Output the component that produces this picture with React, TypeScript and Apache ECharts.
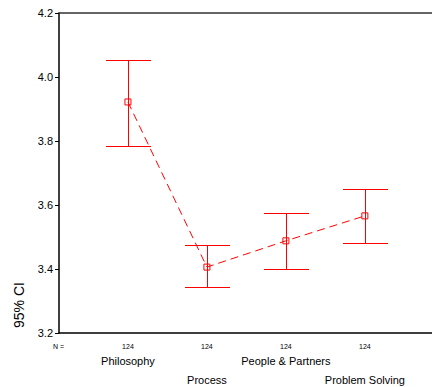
import React, { useEffect, useRef } from "react";
import * as echarts from "echarts";

const categories = ["Philosophy", "Process", "People & Partners", "Problem Solving"];
const counts = [124, 124, 124, 124];
const means = [3.922, 3.406, 3.488, 3.566];
const upper = [4.053, 3.475, 3.575, 3.65];
const lower = [3.784, 3.344, 3.4, 3.481];
const yTicks = [3.2, 3.4, 3.6, 3.8, 4.0, 4.2];

export default function App() {
  const ref = useRef<HTMLDivElement>(null);
  useEffect(() => {
    if (!ref.current) return;
    const chart = echarts.init(ref.current, null, { renderer: "svg" });
    const font = "'Liberation Sans', Arial, sans-serif";
    const pos = categories.map((_, i) => i + 1);
    chart.setOption({
      animation: false,
      grid: { left: 59, right: 0, top: 13, bottom: 54, containLabel: false },
      xAxis: [
        {
          type: "value",
          min: 0.127,
          max: 4.85,
          axisLine: { show: true, lineStyle: { color: "#000", width: 1.5 } },
          axisTick: { show: false },
          axisLabel: { show: false },
          splitLine: { show: false },
        },
        {
          type: "value",
          position: "top",
          min: 0.127,
          max: 4.85,
          axisLine: { show: true, lineStyle: { color: "#333", width: 1.5 } },
          axisTick: { show: false },
          axisLabel: { show: false },
          splitLine: { show: false },
        },
      ],
      yAxis: {
        type: "value",
        min: yTicks[0],
        max: yTicks[yTicks.length - 1],
        interval: 0.2,
        axisLine: { show: true, lineStyle: { color: "#000", width: 1.5 } },
        axisTick: { show: true, length: 4, lineStyle: { color: "#000" } },
        axisLabel: {
          color: "#000",
          fontSize: 11,
          fontFamily: font,
          margin: 6,
          formatter: (v: number) => v.toFixed(1),
        },
        splitLine: { show: false },
      },
      graphic: [
        {
          type: "text",
          x: 19,
          y: 305,
          rotation: Math.PI / 2,
          style: {
            text: "95% CI",
            fontSize: 14,
            fontFamily: font,
            fill: "#000",
            align: "center",
            verticalAlign: "middle",
          },
        },
        {
          type: "text",
          x: 53,
          y: 346,
          style: {
            text: "N =",
            fontSize: 7,
            fontFamily: font,
            fill: "#000",
            align: "left",
            verticalAlign: "middle",
          },
        },
      ],
      series: [
        {
          type: "custom",
          clip: false,
          silent: true,
          data: pos.map((p, i) => [p, lower[i], upper[i]]),
          renderItem: (params: any, api: any) => {
            const x = api.value(0);
            const lo = api.coord([x, api.value(1)]);
            const hi = api.coord([x, api.value(2)]);
            const hw = 22.5;
            const cx = Math.round(hi[0]) + 0.5;
            const yh = Math.round(hi[1]) + 0.5;
            const yl = Math.round(lo[1]) + 0.5;
            const st = { stroke: "#ff0000", lineWidth: 1 };
            return {
              type: "group",
              children: [
                { type: "line", shape: { x1: cx, y1: yh, x2: cx, y2: yl }, style: st },
                { type: "line", shape: { x1: cx - hw, y1: yh, x2: cx + hw, y2: yh }, style: st },
                { type: "line", shape: { x1: cx - hw, y1: yl, x2: cx + hw, y2: yl }, style: st },
              ],
            };
          },
          z: 1,
        },
        {
          type: "line",
          data: pos.map((p, i) => [p, means[i]]),
          symbol: "rect",
          symbolSize: 6,
          showSymbol: true,
          itemStyle: { color: "rgba(255,255,255,0)", borderColor: "#ff0000", borderWidth: 1 },
          lineStyle: { color: "#ff0000", width: 1, type: [8, 5] },
          z: 2,
        },
        {
          type: "custom",
          clip: false,
          silent: true,
          data: pos.map((p, i) => [p, counts[i]]),
          renderItem: (params: any, api: any) => {
            const i = params.dataIndex;
            const c = api.coord([api.value(0), yTicks[0]]);
            return {
              type: "group",
              children: [
                {
                  type: "text",
                  x: c[0],
                  y: c[1] + 13,
                  style: {
                    text: String(api.value(1)),
                    fontSize: 7,
                    fontFamily: font,
                    fill: "#000",
                    align: "center",
                    verticalAlign: "middle",
                  },
                },
                {
                  type: "text",
                  x: c[0],
                  y: c[1] + (i % 2 === 0 ? 28 : 47),
                  style: {
                    text: categories[i],
                    fontSize: 11,
                    fontFamily: font,
                    fill: "#000",
                    align: "center",
                    verticalAlign: "middle",
                  },
                },
              ],
            };
          },
        },
      ],
    });
    return () => chart.dispose();
  }, []);
  return <div ref={ref} style={{ width: 432, height: 387, position: "absolute", left: 0, top: 0 }} />;
}
